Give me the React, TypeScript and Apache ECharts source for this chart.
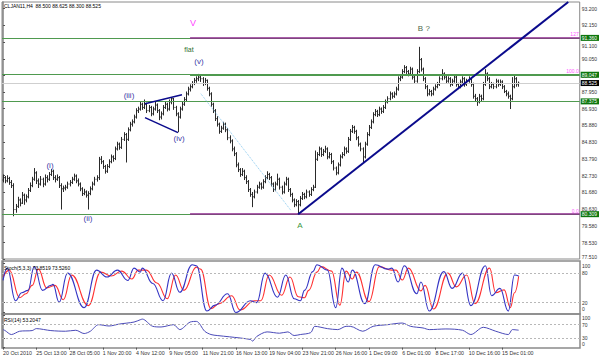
import React, { useEffect, useRef } from 'react';
import * as echarts from 'echarts';

// ---------- data ----------
const headerText = 'CLJAN11,H4  88.500 88.625 88.300 88.525';
const stochText = 'Stoch(5,3,3) 73.8519 73.5260';
const rsiText = 'RSI(14) 53.2047';

const xTickLabels = [
  '20 Oct 2010', '25 Oct 13:00', '28 Oct 05:00', '1 Nov 20:00', '4 Nov 12:00', '9 Nov 05:00',
  '11 Nov 21:00', '16 Nov 13:00', '19 Nov 04:00', '23 Nov 21:00', '26 Nov 16:00', '1 Dec 09:00',
  '6 Dec 01:00', '8 Dec 17:00', '10 Dec 16:00', '15 Dec 01:00',
];
const xTickStep = 16;
const slotCount = 278;

const priceTicks = [93.2, 92.15, 91.1, 90.05, 89.0, 87.95, 86.93, 85.88, 84.83, 83.79, 82.73, 81.68, 80.63, 79.58, 78.53, 77.51];
const stochTicks = [0, 20, 80, 100];
const rsiTicks = [0, 30, 70, 100];
const stochLevels = [20, 80];
const rsiLevels = [30, 70];

// [open, high, low, close]
const bars: number[][] = [
  [82.45, 82.80, 82.30, 82.60], [82.60, 82.70, 82.25, 82.40], [82.40, 82.75, 82.30, 82.55], [82.55, 82.65, 82.15, 82.30],
  [82.30, 82.45, 81.95, 82.10], [82.10, 82.25, 80.18, 80.60], [80.60, 80.95, 80.40, 80.80], [80.80, 81.40, 80.70, 81.20],
  [81.20, 81.30, 80.80, 81.00], [81.00, 81.70, 80.95, 81.50], [81.50, 81.60, 80.90, 81.20], [81.20, 81.55, 81.05, 81.40],
  [81.40, 81.95, 81.30, 81.80], [81.80, 82.30, 81.70, 82.10], [82.10, 82.65, 82.00, 82.50], [82.50, 83.20, 82.40, 82.90],
  [82.90, 83.00, 82.20, 82.40], [82.40, 82.55, 81.95, 82.20], [82.20, 82.70, 82.10, 82.50], [82.50, 82.60, 82.00, 82.20],
  [82.20, 82.80, 82.10, 82.60], [82.60, 82.75, 82.30, 82.50], [82.50, 82.95, 82.40, 82.80], [82.80, 83.15, 82.70, 83.00],
  [83.00, 83.10, 82.45, 82.60], [82.60, 82.75, 82.30, 82.50], [82.50, 82.80, 82.40, 82.60], [82.60, 82.70, 81.95, 82.10],
  [82.10, 82.25, 80.60, 81.90], [81.90, 82.10, 81.70, 81.95], [81.95, 82.15, 81.80, 82.00], [82.00, 82.35, 81.90, 82.20],
  [82.20, 82.45, 82.05, 82.30], [82.30, 82.65, 82.20, 82.50], [82.50, 82.85, 82.40, 82.70], [82.70, 82.80, 82.25, 82.40],
  [82.40, 82.55, 82.05, 82.20], [82.20, 82.30, 81.75, 81.90], [81.90, 82.00, 81.45, 81.60], [81.60, 81.90, 81.50, 81.70],
  [81.70, 81.80, 81.35, 81.50], [81.50, 81.75, 80.60, 81.60], [81.60, 82.05, 81.50, 81.90], [81.90, 82.35, 81.80, 82.20],
  [82.20, 82.65, 82.10, 82.50], [82.50, 82.75, 82.35, 82.60], [82.60, 83.90, 82.45, 83.75], [83.75, 83.95, 83.45, 83.60],
  [83.60, 83.70, 83.15, 83.30], [83.30, 83.40, 82.85, 83.00], [83.00, 83.45, 82.90, 83.30], [83.30, 83.75, 83.20, 83.60],
  [83.60, 84.05, 83.50, 83.90], [83.90, 84.00, 83.60, 83.80], [83.80, 84.55, 83.70, 84.40], [84.40, 84.85, 84.30, 84.70],
  [84.70, 84.80, 84.35, 84.50], [84.50, 85.15, 84.40, 85.00], [85.00, 85.45, 84.90, 85.30], [85.30, 85.40, 83.55, 85.00],
  [85.00, 85.75, 84.90, 85.60], [85.60, 86.10, 85.50, 85.95], [85.95, 86.25, 85.80, 86.10], [86.10, 86.55, 86.00, 86.40],
  [86.40, 86.95, 86.30, 86.80], [86.80, 87.05, 86.65, 86.90], [86.90, 87.40, 86.80, 87.20], [87.20, 87.30, 86.85, 87.00],
  [87.00, 87.50, 86.90, 87.20], [87.20, 87.30, 86.65, 86.80], [86.80, 87.15, 86.70, 87.00], [87.00, 87.10, 86.45, 86.60],
  [86.60, 87.05, 86.50, 86.90], [86.90, 87.35, 86.80, 87.15], [87.15, 87.25, 86.65, 86.80], [86.80, 86.90, 86.20, 86.40],
  [86.40, 86.75, 86.25, 86.60], [86.60, 87.15, 86.50, 87.00], [87.00, 87.40, 86.90, 87.20], [87.20, 87.30, 86.75, 86.90],
  [86.90, 87.50, 86.80, 87.35], [87.35, 87.65, 87.20, 87.55], [87.55, 87.60, 86.85, 87.00], [87.00, 87.10, 86.45, 86.60],
  [86.60, 86.70, 85.45, 86.40], [86.40, 87.05, 86.30, 86.90], [86.90, 87.35, 86.80, 87.20], [87.20, 87.65, 87.10, 87.50],
  [87.50, 88.00, 87.40, 87.85], [87.85, 88.30, 87.75, 88.15], [88.15, 88.45, 88.00, 88.30], [88.30, 88.65, 88.20, 88.50],
  [88.50, 88.85, 88.40, 88.70], [88.70, 88.95, 88.55, 88.80], [88.80, 89.10, 88.65, 88.90], [88.90, 89.00, 88.60, 88.80],
  [88.80, 88.90, 88.35, 88.50], [88.50, 88.85, 88.40, 88.70], [88.70, 88.75, 88.05, 88.20], [88.20, 88.30, 87.70, 87.85],
  [87.85, 87.95, 87.05, 87.20], [87.20, 87.30, 86.65, 86.80], [86.80, 86.90, 86.15, 86.30], [86.30, 86.45, 85.80, 85.95],
  [85.95, 86.05, 85.35, 85.50], [85.50, 85.85, 85.40, 85.70], [85.70, 86.10, 85.60, 85.95], [85.95, 86.05, 85.45, 85.60],
  [85.60, 85.70, 84.95, 85.10], [85.10, 85.25, 84.75, 84.90], [84.90, 85.00, 84.25, 84.40], [84.40, 84.55, 83.95, 84.10],
  [84.10, 84.20, 83.25, 83.40], [83.40, 83.55, 82.95, 83.10], [83.10, 83.20, 82.65, 82.80], [82.80, 83.20, 82.70, 83.00],
  [83.00, 83.10, 82.45, 82.60], [82.60, 82.75, 82.20, 82.35], [82.35, 82.45, 81.70, 81.85], [81.85, 81.95, 81.40, 81.55],
  [81.55, 81.70, 80.75, 81.40], [81.40, 81.85, 81.30, 81.70], [81.70, 82.15, 81.60, 82.00], [82.00, 82.35, 81.90, 82.20],
  [82.20, 82.30, 81.85, 82.00], [82.00, 82.50, 81.90, 82.35], [82.35, 82.75, 82.25, 82.60], [82.60, 83.00, 82.50, 82.80],
  [82.80, 82.90, 82.45, 82.60], [82.60, 82.70, 82.05, 82.20], [82.20, 82.30, 81.70, 81.85], [81.85, 82.35, 81.75, 82.20],
  [82.20, 82.85, 82.10, 82.50], [82.50, 82.60, 81.85, 82.00], [82.00, 82.10, 81.55, 81.70], [81.70, 82.35, 81.60, 82.20],
  [82.20, 82.65, 82.10, 82.50], [82.50, 82.60, 81.70, 81.85], [81.85, 81.95, 81.40, 81.55], [81.55, 81.65, 81.05, 81.20],
  [81.20, 81.30, 80.75, 80.90], [80.90, 81.25, 80.80, 81.10], [81.10, 81.20, 80.35, 80.90], [80.90, 81.45, 80.80, 81.30],
  [81.30, 81.70, 81.20, 81.55], [81.55, 81.65, 81.25, 81.40], [81.40, 81.85, 81.30, 81.70], [81.70, 81.80, 81.40, 81.55],
  [81.55, 82.00, 81.45, 81.85], [81.85, 82.15, 81.75, 82.00], [82.00, 84.30, 81.95, 83.75], [83.75, 84.20, 83.65, 84.05],
  [84.05, 84.55, 83.95, 84.40], [84.40, 84.50, 83.90, 84.05], [84.05, 84.40, 83.95, 84.25], [84.25, 84.60, 84.15, 84.40],
  [84.40, 84.50, 83.75, 83.90], [83.90, 84.20, 83.80, 84.05], [84.05, 84.15, 83.45, 83.60], [83.60, 83.70, 83.05, 83.20],
  [83.20, 83.30, 82.75, 82.90], [82.90, 83.55, 82.80, 83.40], [83.40, 84.05, 83.30, 83.90], [83.90, 84.20, 83.80, 84.05],
  [84.05, 84.55, 83.95, 84.40], [84.40, 84.50, 84.10, 84.25], [84.25, 85.15, 84.15, 85.00], [85.00, 85.65, 84.90, 85.50],
  [85.50, 85.90, 85.40, 85.75], [85.75, 85.85, 85.35, 85.50], [85.50, 85.60, 84.95, 85.10], [85.10, 85.20, 84.55, 84.70],
  [84.70, 84.80, 84.25, 84.40], [84.40, 84.50, 83.55, 83.90], [83.90, 84.85, 83.80, 84.70], [84.70, 85.45, 84.60, 85.30],
  [85.30, 85.90, 85.20, 85.75], [85.75, 86.25, 85.65, 86.10], [86.10, 86.70, 86.00, 86.55], [86.55, 86.90, 86.45, 86.75],
  [86.75, 86.85, 86.40, 86.55], [86.55, 87.05, 86.45, 86.90], [86.90, 87.00, 86.60, 86.75], [86.75, 87.15, 86.65, 87.00],
  [87.00, 87.50, 86.90, 87.35], [87.35, 87.70, 87.25, 87.55], [87.55, 88.00, 87.45, 87.85], [87.85, 87.95, 87.55, 87.70],
  [87.70, 88.00, 87.60, 87.85], [87.85, 88.30, 87.75, 88.15], [88.15, 88.95, 88.05, 88.80], [88.80, 89.05, 88.65, 88.90],
  [88.90, 89.40, 88.80, 89.25], [89.25, 89.65, 89.15, 89.50], [89.50, 89.60, 89.10, 89.25], [89.25, 89.35, 88.95, 89.10],
  [89.10, 89.55, 89.00, 89.40], [89.40, 89.50, 88.75, 88.90], [88.90, 89.00, 88.50, 88.65], [88.65, 89.40, 88.55, 89.25],
  [89.25, 90.80, 89.15, 90.00], [90.00, 90.10, 89.25, 89.40], [89.40, 89.50, 88.65, 88.80], [88.80, 88.90, 88.15, 88.30],
  [88.30, 88.40, 87.70, 87.85], [87.85, 88.15, 87.75, 88.00], [88.00, 88.10, 87.70, 87.85], [87.85, 88.30, 87.75, 88.15],
  [88.15, 88.45, 88.05, 88.30], [88.30, 88.60, 88.20, 88.45], [88.45, 88.95, 88.35, 88.80], [88.80, 89.40, 88.70, 89.10],
  [89.10, 89.20, 88.75, 88.90], [88.90, 89.00, 88.50, 88.65], [88.65, 88.95, 88.55, 88.80], [88.80, 88.90, 88.30, 88.45],
  [88.45, 88.80, 88.35, 88.65], [88.65, 89.05, 88.55, 88.90], [88.90, 89.00, 88.30, 88.45], [88.45, 88.55, 88.15, 88.30],
  [88.30, 88.75, 88.20, 88.60], [88.60, 88.95, 88.50, 88.80], [88.80, 88.90, 88.30, 88.45], [88.45, 88.80, 88.35, 88.65],
  [88.65, 88.95, 88.55, 88.80], [88.80, 88.90, 88.30, 88.45], [88.45, 88.55, 87.55, 87.70], [87.70, 87.85, 87.35, 87.55],
  [87.55, 87.65, 87.10, 87.35], [87.35, 87.85, 87.25, 87.70], [87.70, 87.80, 87.40, 87.55], [87.55, 88.60, 87.45, 88.45],
  [88.45, 89.40, 88.35, 89.10], [89.10, 89.20, 88.65, 88.80], [88.80, 88.90, 88.15, 88.30], [88.30, 88.60, 88.20, 88.45],
  [88.45, 88.55, 88.15, 88.30], [88.30, 88.80, 88.20, 88.65], [88.65, 88.75, 88.30, 88.45], [88.45, 88.75, 88.35, 88.60],
  [88.60, 88.70, 88.15, 88.30], [88.30, 88.40, 87.90, 88.00], [88.00, 88.10, 87.70, 87.85], [87.85, 88.00, 87.55, 87.70],
  [87.70, 87.80, 86.90, 87.55], [87.55, 88.90, 87.45, 88.30], [88.30, 89.05, 88.20, 88.80], [88.80, 88.90, 88.30, 88.45],
  [88.50, 88.625, 88.30, 88.525],
];

// [bar index, value]
const stochK = [
  [0, 65], [2, 90], [6, 24], [9, 40], [12, 45], [15, 93], [19, 45], [23, 55], [24, 57], [27, 21], [31, 80], [39, 10],
  [45, 86], [50, 72], [55, 86], [60, 65], [63, 90], [66, 82], [67, 90], [72, 59], [77, 24], [81, 80], [85, 41], [91, 97],
  [93, 95], [98, 3], [102, 15], [108, 38], [112, 0], [119, 24], [122, 20], [126, 80], [132, 31], [136, 76], [140, 28],
  [143, 24], [145, 45], [149, 83], [151, 97], [156, 86], [160, 10], [163, 90], [166, 62], [168, 86], [174, 18], [179, 97],
  [185, 88], [187, 90], [190, 62], [193, 95], [199, 38], [201, 62], [205, 3], [212, 83], [216, 49], [221, 80], [225, 14],
  [232, 95], [235, 34], [239, 49], [243, 3], [246, 76], [248, 73.85],
];
const stochD = [
  [0, 72], [3, 86], [8, 30], [11, 38], [14, 55], [17, 88], [21, 50], [25, 55], [29, 26], [33, 76], [41, 14], [47, 82],
  [52, 74], [57, 84], [62, 68], [65, 86], [69, 86], [74, 60], [79, 28], [83, 76], [87, 45], [93, 92], [95, 88], [100, 8],
  [104, 18], [110, 34], [114, 5], [121, 24], [124, 24], [128, 76], [134, 35], [138, 72], [142, 32], [145, 30], [147, 45],
  [151, 82], [153, 93], [158, 84], [162, 15], [165, 84], [168, 68], [170, 82], [176, 22], [181, 93], [187, 86], [189, 86],
  [192, 66], [195, 90], [201, 44], [203, 55], [207, 7], [214, 80], [218, 52], [223, 76], [227, 18], [234, 90], [237, 40],
  [241, 46], [244, 10], [246, 40], [248, 73.53],
];
const rsi14 = [
  [0, 55], [1, 52], [4, 40], [8, 50], [14, 52], [16, 58], [23, 52], [30, 50], [35, 53], [39, 43], [42, 50], [46, 70],
  [51, 66], [56, 72], [63, 78], [66, 85], [67, 87], [72, 65], [76, 63], [82, 70], [85, 55], [90, 78], [93, 80], [97, 50],
  [100, 40], [103, 37], [109, 33], [119, 25], [120, 20], [122, 34], [127, 48], [133, 44], [137, 48], [140, 37], [143, 40],
  [148, 46], [150, 65], [156, 58], [161, 55], [165, 65], [167, 65], [173, 50], [178, 65], [185, 70], [192, 75], [196, 65],
  [202, 60], [205, 55], [213, 57], [221, 53], [225, 40], [231, 62], [237, 50], [243, 40], [245, 55], [248, 53.2],
];

const supportLevels = [91.36, 89.047, 87.375, 80.309];
const lastPrice = 88.525;
const fibLevels: [number, string][] = [[91.36, '127'], [89.047, '100.0'], [80.309, '0.0']];
const fibStartIndex = 90;
const trendLine = [[142, 80.30], [272, 93.61]];
const wedgeUpper = [[68.3, 87.235], [86.1, 87.80]];
const wedgeLower = [[68.3, 86.36], [84.2, 85.42]];
const zigzagLine = [[95.2, 87.86], [138.5, 80.55]];
const waveLabels: [string, number, number][] = [
  ['V', 91.4, 92.30], ['flat', 89.5, 90.64], ['(v)', 94.3, 89.86], ['(iii)', 60.6, 87.73], ['(iv)', 84.7, 85.05],
  ['(i)', 22.6, 83.36], ['(ii)', 40.9, 80.05], ['A', 142.9, 79.6], ['B ?', 202.5, 91.92],
];

// ---------- styles ----------
const FONT = 'Liberation Sans, Arial, sans-serif';
const waveStyle: Record<string, { color: string; fontSize: number }> = {
  'V': { color: '#ff44ff', fontSize: 9 },
  'flat': { color: '#2f6e2f', fontSize: 7 },
  'A': { color: '#3c963c', fontSize: 8 },
  'B ?': { color: '#4c6a4c', fontSize: 8 },
};
const defaultWave = { color: '#3a3aa8', fontSize: 8 };

export default function App() {
  const ref = useRef<HTMLDivElement>(null);
  useEffect(() => {
    if (!ref.current) return;
    const chart = echarts.init(ref.current, undefined, { renderer: 'svg' });

    const ohlcData = bars.map((b, i) => [i, b[0], b[1], b[2], b[3]]);
    const renderItem = (_params: any, api: any) => {
      const i = api.value(0);
      const pO = api.coord([i, api.value(1)]);
      const pH = api.coord([i, api.value(2)]);
      const pL = api.coord([i, api.value(3)]);
      const pC = api.coord([i, api.value(4)]);
      const x = Math.round(pO[0]) + 0.5;
      const st = { stroke: '#2a2a2a', lineWidth: 1 };
      return {
        type: 'group',
        children: [
          { type: 'line', shape: { x1: x, y1: pH[1], x2: x, y2: pL[1] }, style: st },
          { type: 'line', shape: { x1: x - 1, y1: pO[1], x2: x, y2: pO[1] }, style: st },
          { type: 'line', shape: { x1: x, y1: pC[1], x2: x + 1, y2: pC[1] }, style: st },
        ],
      };
    };

    const boxLabel = (v: number, bg: string) => ({
      show: true, position: 'end', formatter: v.toFixed(3), backgroundColor: bg, color: '#fff',
      fontSize: 5, fontFamily: FONT, padding: [1, 2, 0, 1], distance: 1,
    });

    const mlData: any[] = [];
    supportLevels.forEach((v) => {
      mlData.push({ yAxis: v, lineStyle: { color: '#4f9a4f', width: 1, type: 'solid' }, label: boxLabel(v, '#0d760d') });
    });
    mlData.push({ yAxis: lastPrice, lineStyle: { color: '#cfcfcf', width: 1, type: 'solid' }, label: boxLabel(lastPrice, '#000') });
    fibLevels.forEach(([v, t]) => {
      const purple = v !== 89.047;
      mlData.push([
        {
          coord: [fibStartIndex, v],
          lineStyle: { color: purple ? '#8e2a8e' : '#4f9a4f', width: purple ? 1.5 : 1, type: 'solid' },
          label: { show: true, position: 'insideEndTop', formatter: t, color: '#ff55ff', fontSize: 5, fontFamily: FONT, distance: 1 },
        },
        { coord: [slotCount - 0.5, v] },
      ]);
    });
    const seg = (p: number[][], style: any) => [{ coord: p[0], lineStyle: style }, { coord: p[1] }];
    mlData.push(seg(trendLine, { color: '#0a0a8c', width: 2, type: 'solid' }));
    mlData.push(seg(wedgeUpper, { color: '#0a0a8c', width: 1.5, type: 'solid' }));
    mlData.push(seg(wedgeLower, { color: '#0a0a8c', width: 1.5, type: 'solid' }));
    mlData.push(seg(zigzagLine, { color: '#8ccbf0', width: 1, type: 'dotted' }));

    const mpData = waveLabels.map(([t, i, p]) => {
      const s = waveStyle[t] || defaultWave;
      return {
        name: t, coord: [i, p], symbol: 'rect', symbolSize: 1, itemStyle: { color: 'rgba(0,0,0,0)' },
        label: { show: true, position: 'inside', formatter: t, color: s.color, fontSize: s.fontSize, fontFamily: FONT },
      };
    });

    const levelLines = (vals: number[]) => ({
      silent: true, symbol: ['none', 'none'], label: { show: false },
      lineStyle: { color: '#b8b8b8', width: 1, type: [2, 2] },
      data: vals.map((v) => ({ yAxis: v })),
    });

    const gridBase = { left: 2, right: 20, show: true, borderColor: '#8a8a8a', borderWidth: 1 };
    const xBase = (k: number) => ({
      type: 'value', gridIndex: k, min: -0.5, max: slotCount - 0.5,
      axisLine: { show: false }, splitLine: { show: false },
      axisTick: k === 2
        ? { show: true, customValues: xTickLabels.map((_, j) => j * xTickStep), length: 2, lineStyle: { color: '#555' } }
        : { show: false },
      axisLabel: k === 2
        ? {
          show: true, customValues: xTickLabels.map((_, j) => j * xTickStep),
          formatter: (v: number) => xTickLabels[Math.round(v / xTickStep)] || '',
          align: 'left', fontSize: 5.3, color: '#333', margin: 2, fontFamily: FONT,
        }
        : { show: false },
    });
    // labels at the ends of each panel's scale are nudged inward, as in the reference
    const edgeRich = {
      hi: { padding: [6, 0, 0, 0], fontSize: 5, color: '#333', fontFamily: FONT },
      lo: { padding: [0, 0, 7, 0], fontSize: 5, color: '#333', fontFamily: FONT },
      lo2: { padding: [0, 0, 3, 0], fontSize: 5, color: '#333', fontFamily: FONT },
      dn: { padding: [8, 0, 0, 0], fontSize: 5, color: '#333', fontFamily: FONT },
    };
    const yBase = (k: number, min: number, max: number, ticks: number[], fmt: (v: number) => string) => ({
      type: 'value', gridIndex: k, position: 'right', min, max,
      axisLine: { show: true, lineStyle: { color: '#808080', width: 1.5 } },
      axisTick: { show: true, customValues: ticks, length: 2, lineStyle: { color: '#555' } },
      axisLabel: { show: true, customValues: ticks, formatter: fmt, fontSize: 5, color: '#333', margin: 2, fontFamily: FONT, rich: edgeRich },
      splitLine: { show: false },
    });
    const subFmt = (ticks: number[]) => (v: number) => {
      if (v === ticks[ticks.length - 1]) return `{hi|${v}}`;
      if (v === ticks[0]) return `{lo|${v}}`;
      return String(v);
    };
    const priceFmt = (v: number) => {
      if (v === priceTicks[priceTicks.length - 1]) return `{lo2|${v.toFixed(3)}}`;
      if (v === priceTicks[2]) return `{dn|${v.toFixed(3)}}`;
      return v.toFixed(3);
    };

    const titleStyle = { fontSize: 5, fontWeight: 'normal', color: '#000', fontFamily: FONT };

    chart.setOption({
      animation: false,
      backgroundColor: '#fff',
      title: [
        { text: headerText, left: 4, top: 3, padding: 0, textStyle: titleStyle },
        { text: stochText, left: 4, top: 265, padding: 0, textStyle: titleStyle },
        { text: rsiText, left: 4, top: 317, padding: 0, textStyle: titleStyle },
      ],
      grid: [
        { ...gridBase, top: 2, height: 257 },
        { ...gridBase, top: 261, height: 53, borderWidth: 1.5 },
        { ...gridBase, top: 314, height: 34, borderWidth: 1.5 },
      ],
      xAxis: [xBase(0), xBase(1), xBase(2)],
      yAxis: [
        yBase(0, 77.5, 93.61, priceTicks, priceFmt),
        yBase(1, -3, 104.5, stochTicks, subFmt(stochTicks)),
        yBase(2, -1, 102.5, rsiTicks, subFmt(rsiTicks)),
      ],
      series: [
        {
          type: 'line', xAxisIndex: 0, yAxisIndex: 0, data: [[0, bars[0][3]]], symbol: 'none',
          lineStyle: { opacity: 0 }, silent: true, z: 1,
          markLine: { silent: true, symbol: ['none', 'none'], label: { show: false }, data: mlData },
          markPoint: { silent: true, data: mpData },
        },
        {
          type: 'custom', xAxisIndex: 0, yAxisIndex: 0, data: ohlcData, renderItem, clip: true, z: 3,
          encode: { x: 0, y: [1, 2, 3, 4] },
        },
        {
          type: 'line', xAxisIndex: 1, yAxisIndex: 1, data: stochK, symbol: 'none', smooth: 0.45, smoothMonotone: 'x',
          lineStyle: { color: '#3434c4', width: 1.1 }, markLine: levelLines(stochLevels), z: 3,
        },
        {
          type: 'line', xAxisIndex: 1, yAxisIndex: 1, data: stochD, symbol: 'none', smooth: 0.45, smoothMonotone: 'x',
          lineStyle: { color: '#ff3030', width: 1.1 }, z: 2,
        },
        {
          type: 'line', xAxisIndex: 2, yAxisIndex: 2, data: rsi14, symbol: 'none', smooth: 0.3,
          lineStyle: { color: '#4a4ab8', width: 1 }, markLine: levelLines(rsiLevels),
        },
      ],
    });
    return () => chart.dispose();
  }, []);

  return <div ref={ref} style={{ position: 'absolute', left: 0, top: 0, width: 600, height: 357 }} />;
}
